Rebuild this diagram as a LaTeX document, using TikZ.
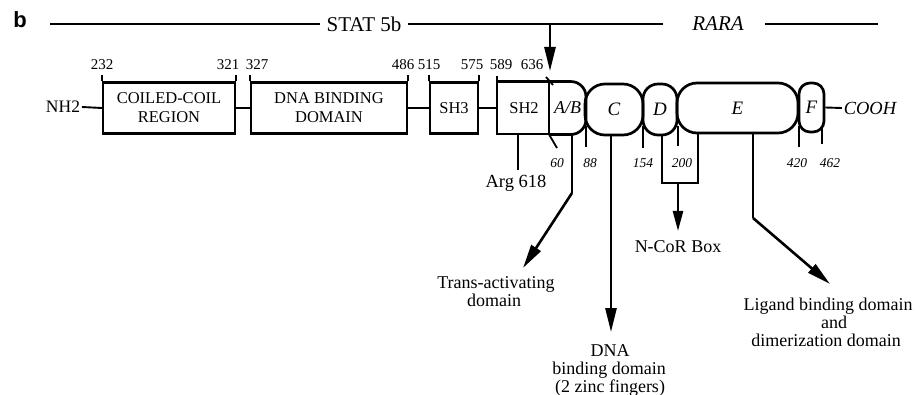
\documentclass[tikz,border=0pt]{standalone}
\usepackage{fontspec}
\setmainfont{Liberation Serif}
\newfontfamily\figsans{Liberation Sans}
\usetikzlibrary{arrows.meta}
\begin{document}
\begin{tikzpicture}[x=1pt,y=-1pt,line width=1.9pt,
  box/.style={draw,line width=2.1pt,inner sep=0pt,align=center,font=\fontsize{16.5}{19}\selectfont},
  dom/.style={draw,line width=2.7pt,inner sep=0pt,font=\fontsize{19}{20}\selectfont\itshape},
  num/.style={font=\fontsize{15}{16}\selectfont,inner sep=0pt},
  inum/.style={font=\fontsize{13.5}{16}\selectfont\itshape,inner sep=0pt},
  lab/.style={font=\fontsize{18}{20}\selectfont,inner sep=0pt,anchor=base},
  tick/.style={line width=1.8pt},
  arr/.style={line width=2.6pt,-{Triangle[length=24pt,width=11pt]}},
]
\useasboundingbox (0,0) rectangle (923,395);

% title row
\node[font=\figsans\bfseries\fontsize{22}{24}\selectfont,inner sep=0pt] (b) at (20,20) {b};
\node[font=\fontsize{21}{22}\selectfont,inner sep=6pt] (stat) at (364,24) {STAT 5b};
\node[font=\fontsize{21}{22}\selectfont\itshape,inner sep=0pt] (rara) at (718,24) {RARA};
\coordinate (rl) at (50,24);
\coordinate (m1) at (663,24);
\coordinate (m2) at (765,24);
\coordinate (rr) at (878,24);
\draw[tick] (rl) -- (stat.west);
\draw[tick] (stat.east) -- (m1);
\draw[tick] (m2) -- (rr);
\coordinate (fz) at (550,24);
\coordinate (fztip) at (550,71);
\draw[arr] (fz) -- (fztip);

% STAT 5b domains
\node[font=\fontsize{17.5}{20}\selectfont,inner sep=1pt] (nh2) at (63,107) {NH2};
\node[box,minimum width=132pt,minimum height=51pt] (cc) at (169,108) {COILED-COIL\\REGION};
\node[box,minimum width=156pt,minimum height=51pt] (dbd) at (329,108) {DNA BINDING\\DOMAIN};
\node[box,minimum width=48pt,minimum height=51pt] (sh3) at (454,108) {SH3};
\node[font=\fontsize{16.5}{18}\selectfont,minimum width=52pt,minimum height=51pt,inner sep=0pt] (sh2) at (524,108) {SH2};
\node[font=\fontsize{18}{18}\selectfont\itshape,minimum width=35pt,minimum height=51pt,inner sep=0pt] (ab) at (567.5,108) {A/B};
\draw[line width=2.1pt] (ab.north west) -- (sh2.north west) -- (sh2.south west) -- (ab.south west);
\draw[line width=2.7pt,rounded corners=15pt] (ab.south west) -| (ab.north east) -- (ab.north west);
\draw[tick] (ab.north west) -- (ab.south west);
\coordinate (d1a) at (546,77);
\coordinate (d1b) at (553,85);
\draw[tick] (d1a) -- (d1b);
\coordinate (d2b) at (557,148);
\draw[tick] (ab.south west) -- (d2b);

% RARA domains
\node[dom,minimum width=58pt,minimum height=51pt,rounded corners=20pt] (C) at (614,109.5) {C};
\node[dom,minimum width=34pt,minimum height=51pt,rounded corners=15pt] (D) at (660,109.5) {D};
\node[dom,minimum width=121pt,minimum height=50pt,rounded corners=20pt] (E) at (737.5,108) {E};
\node[dom,minimum width=25pt,minimum height=49pt,rounded corners=11pt] (F) at (811.5,107.5) {F};
\node[font=\fontsize{18.5}{20}\selectfont\itshape,inner sep=1pt] (cooh) at (870,108) {COOH};

% connectors
\draw (nh2.east) -- (cc.west);
\draw (cc.east) -- (dbd.west);
\draw (dbd.east) -- (sh3.west);
\draw (sh3.east) -- (sh2.west);
\draw (F.east) -- (cooh.west);

% ticks above
\foreach \a in {cc.north west,cc.north east,dbd.north west,dbd.north east,sh3.north west,sh3.north east,sh2.north west}
  \draw[tick] (\a) -- ++(0,-6);

\node[num] (n232) at (102,65) {232};
\node[num] (n321) at (228,65) {321};
\node[num] (n327) at (257,65) {327};
\node[num] (n486) at (403,65) {486};
\node[num] (n515) at (429,65) {515};
\node[num] (n575) at (472,65) {575};
\node[num] (n589) at (501,65) {589};
\node[num] (n636) at (532,65) {636};

% ticks below
\coordinate (t88a) at (586,126);   \coordinate (t88b) at (586,147);
\coordinate (t154a) at (643,126);  \coordinate (t154b) at (643,148);
\coordinate (t200a) at (678,126);  \coordinate (t200b) at (678,146);
\coordinate (t420a) at (799,126);  \coordinate (t420b) at (799,147);
\coordinate (t462a) at (822,128);  \coordinate (t462b) at (822,144);
\draw[tick] (t88a) -- (t88b);
\draw[tick] (t154a) -- (t154b);
\draw[tick] (t200a) -- (t200b);
\draw[tick] (t420a) -- (t420b);
\draw[tick] (t462a) -- (t462b);

\node[inum] (l60) at (557,163) {60};
\node[inum] (l88) at (590,163) {88};
\node[inum] (l154) at (643,163) {154};
\node[inum] (l200) at (682,163) {200};
\node[inum] (l420) at (797,163) {420};
\node[inum] (l462) at (830,163) {462};

% Arg 618
\coordinate (argt) at (518,133.5);
\coordinate (argb) at (518,170);
\draw[tick] (argt) -- (argb);
\node[font=\fontsize{18.5}{20}\selectfont,inner sep=0pt,anchor=base] (arg) at (516,188) {Arg 618};

% Trans-activating
\coordinate (ta0) at (572,133.5);
\coordinate (ta1) at (572,193);
\coordinate (tatip) at (523,268);
\draw[tick] (ta0) -- (ta1);
\draw[arr] (ta1) -- (tatip);
\node[lab] (tal1) at (496,288) {Trans-activating};
\node[lab] (tal2) at (494,306) {domain};

% DNA binding
\coordinate (dna0) at (611,135);
\coordinate (dnatip) at (611,332);
\draw[arr] (dna0) -- (dnatip);
\node[lab] (dl1) at (610,356) {DNA};
\node[lab] (dl2) at (609,374) {binding domain};
\node[lab] (dl3) at (610,392) {(2 zinc fingers)};

% N-CoR box
\coordinate (nd0) at (662,135);
\coordinate (nd1) at (662,183);
\coordinate (ne1) at (698,183);
\coordinate (ne0) at (698,133);
\draw[tick] (nd0) -- (nd1) -- (ne1) -- (ne0);
\coordinate (nc0) at (678,183);
\coordinate (nctip) at (678,231);
\draw[line width=2.4pt,-{Triangle[length=20pt,width=10pt]}] (nc0) -- (nctip);
\node[lab] (ncor) at (678,253) {N-CoR Box};

% Ligand binding
\coordinate (lg0) at (753,132.5);
\coordinate (lg1) at (753,218);
\coordinate (lgtip) at (830,284);
\draw[tick] (lg0) -- (lg1);
\draw[arr] (lg1) -- (lgtip);
\node[lab] (ll1) at (828,310) {Ligand binding domain};
\node[lab] (ll2) at (834,328) {and};
\node[lab] (ll3) at (826,346) {dimerization domain};
\end{tikzpicture}
\end{document}
